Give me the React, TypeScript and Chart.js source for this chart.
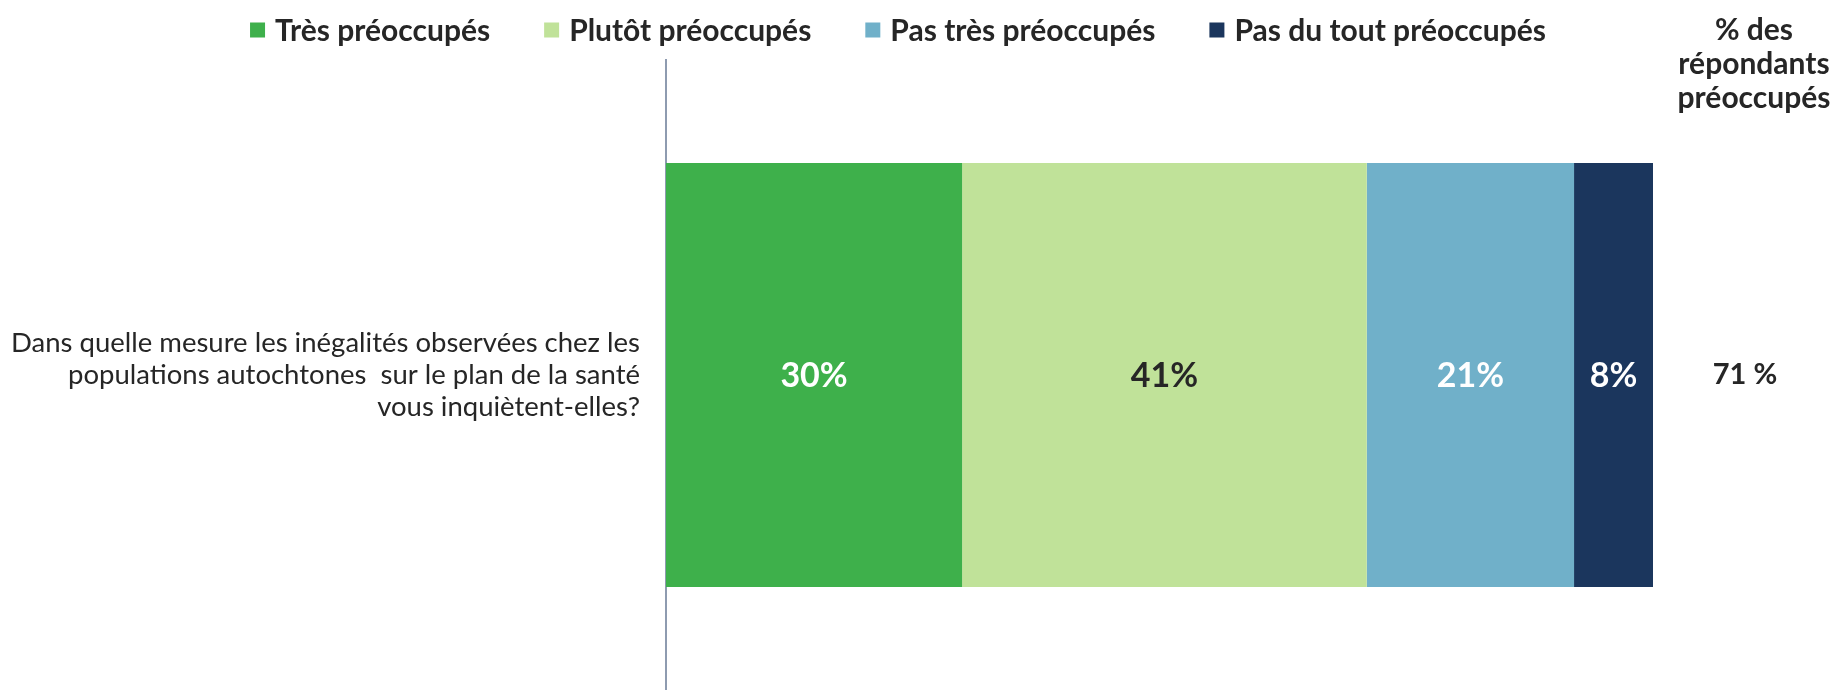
import React, { useEffect, useRef } from 'react';
import { Chart, registerables } from 'chart.js';

Chart.register(...registerables);

const categories = [
  [
    'Dans quelle mesure les inégalités observées chez les',
    'populations autochtones  sur le plan de la santé',
    'vous inquiètent-elles?',
  ],
];
const seriesNames = ['Très préoccupés', 'Plutôt préoccupés', 'Pas très préoccupés', 'Pas du tout préoccupés'];
const tresPreoccupes = [30];
const plutotPreoccupes = [41];
const pasTresPreoccupes = [21];
const pasDuToutPreoccupes = [8];
const seriesColors = ['#3EB04B', '#C0E299', '#70B0C9', '#1B365D'];
const valueLabelColors = ['#FFFFFF', '#262626', '#FFFFFF', '#FFFFFF'];
const concernedHeader = ['% des', 'répondants', 'préoccupés'];
const concernedValues = ['71 %'];

const FONT = 'Lato';
const TEXT_DARK = '#262626';

const legendPlugin = {
  id: 'customLegend',
  afterDraw(chart: any) {
    const ctx = chart.ctx;
    ctx.save();
    const size = 30;
    ctx.font = `bold ${size}px ${FONT}`;
    const box = 15;
    const boxGap = 10;
    const itemGap = 54;
    const items = chart.data.datasets.map((ds: any) => ({
      label: ds.label,
      color: ds.backgroundColor,
      w: ctx.measureText(ds.label).width,
    }));
    const total = items.reduce((s: number, it: any) => s + box + boxGap + it.w, 0) + itemGap * (items.length - 1);
    let x = 898 - total / 2;
    const cy = 30;
    ctx.textBaseline = 'middle';
    ctx.textAlign = 'left';
    items.forEach((it: any) => {
      ctx.fillStyle = it.color;
      ctx.fillRect(x, cy - box / 2, box, box);
      ctx.fillStyle = TEXT_DARK;
      ctx.fillText(it.label, x + box + boxGap, cy + 1);
      x += box + boxGap + it.w + itemGap;
    });
    ctx.restore();
  },
};

const valueLabelsPlugin = {
  id: 'valueLabels',
  afterDatasetsDraw(chart: any) {
    const ctx = chart.ctx;
    ctx.save();
    ctx.textAlign = 'center';
    ctx.textBaseline = 'middle';
    ctx.font = `bold 34px ${FONT}`;
    chart.data.datasets.forEach((ds: any, i: number) => {
      const meta = chart.getDatasetMeta(i);
      meta.data.forEach((el: any, j: number) => {
        const { x, base, y } = el.getProps(['x', 'base', 'y'], true);
        ctx.fillStyle = valueLabelColors[i];
        ctx.fillText(`${ds.data[j]}%`, (x + base) / 2, y + 1);
      });
    });
    // concerned column
    const area = chart.chartArea;
    const colX = area.right + 96;
    ctx.fillStyle = TEXT_DARK;
    const meta0 = chart.getDatasetMeta(0);
    ctx.font = `bold 29px ${FONT}`;
    meta0.data.forEach((el: any, j: number) => {
      ctx.fillText(concernedValues[j], colX - 4, el.y);
    });
    ctx.font = `bold 30px ${FONT}`;
    concernedHeader.forEach((line, k) => {
      ctx.fillText(line, colX + 5, 30 + k * 34);
    });
    ctx.restore();
  },
};

export default function App() {
  const canvasRef = useRef<HTMLCanvasElement | null>(null);

  useEffect(() => {
    document.body.style.margin = '0';
    const canvas = canvasRef.current;
    if (!canvas) return;
    const values = [tresPreoccupes, plutotPreoccupes, pasTresPreoccupes, pasDuToutPreoccupes];
    const chart = new Chart(canvas, {
      type: 'bar',
      data: {
        labels: categories,
        datasets: values.map((v, i) => ({
          label: seriesNames[i],
          data: v,
          backgroundColor: seriesColors[i],
          borderWidth: 0,
          barPercentage: 0.673,
          categoryPercentage: 1,
        })),
      },
      options: {
        indexAxis: 'y',
        responsive: false,
        animation: false,
        devicePixelRatio: 1,
        layout: { padding: { top: 60, right: 182, bottom: 0, left: 0 } },
        scales: {
          x: { stacked: true, min: 0, max: 100, display: false },
          y: {
            stacked: true,
            grid: { display: false, drawTicks: false },
            border: { display: true, color: '#8E9BB0', width: 2 },
            ticks: {
              color: TEXT_DARK,
              padding: 26,
              font: { family: FONT, size: 27.5, lineHeight: 1.17 },
            },
            afterFit: (scale: any) => {
              scale.width = 666;
              scale.paddingTop = 0;
              scale.paddingBottom = 0;
            },
          },
        },
        plugins: {
          legend: { display: false },
          tooltip: { enabled: false },
        },
      },
      plugins: [valueLabelsPlugin, legendPlugin],
    } as any);
    return () => chart.destroy();
  }, []);

  return (
    <div style={{ width: 1835, height: 690 }}>
      <canvas ref={canvasRef} width={1835} height={690} style={{ display: 'block', width: 1835, height: 690 }} />
    </div>
  );
}
